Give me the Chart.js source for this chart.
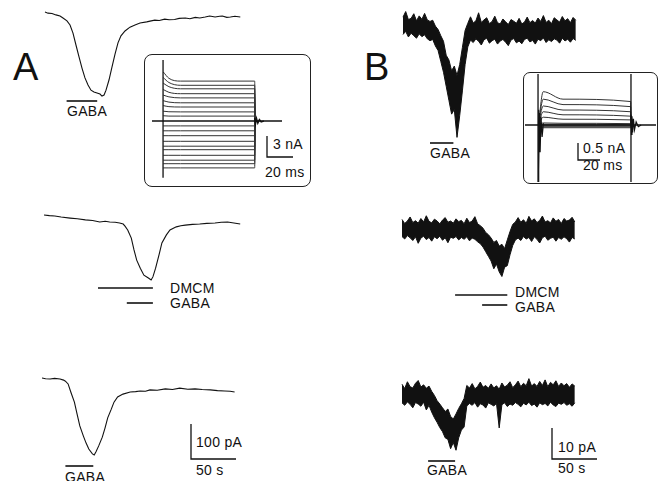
<!DOCTYPE html>
<html>
<head>
<meta charset="utf-8">
<script src="https://cdn.jsdelivr.net/npm/chart.js@4.4.0/dist/chart.umd.min.js"></script>
<style>
  body { margin: 0; background: #fff; }
  #fig { position: relative; width: 661px; height: 481px; overflow: hidden; background: #fff;
         font-family: "Liberation Sans", Arial, sans-serif; color: #111; }
  .t { position: absolute; font-size: 14px; line-height: 1; white-space: nowrap; letter-spacing: 0.3px; }
  .big { font-size: 38px; letter-spacing: 0; }
  .box { position: absolute; border: 1.5px solid #222; border-radius: 8px; box-sizing: border-box; }
</style>
</head>
<body>
<div id="fig">
  <div class="box" style="left:144px;top:54px;width:167px;height:133px"></div>
  <div class="box" style="left:523px;top:72px;width:135px;height:112px;border-radius:7px"></div>

  <div class="t big" style="left:13px;top:48px">A</div>
  <div class="t big" style="left:364px;top:48px">B</div>

  <div class="t" style="left:67px;top:104px">GABA</div>
  <div class="t" style="left:170px;top:281px">DMCM</div>
  <div class="t" style="left:170px;top:296px">GABA</div>
  <div class="t" style="left:65px;top:470px">GABA</div>
  <div class="t" style="left:196px;top:435px">100 pA</div>
  <div class="t" style="left:196px;top:463px">50 s</div>
  <div class="t" style="left:273px;top:137px">3 nA</div>
  <div class="t" style="left:265px;top:165px">20 ms</div>

  <div class="t" style="left:430px;top:146px">GABA</div>
  <div class="t" style="left:515px;top:285px">DMCM</div>
  <div class="t" style="left:515px;top:300px">GABA</div>
  <div class="t" style="left:427px;top:463px">GABA</div>
  <div class="t" style="left:558px;top:440px">10 pA</div>
  <div class="t" style="left:558px;top:461px">50 s</div>
  <div class="t" style="left:583px;top:141px">0.5 nA</div>
  <div class="t" style="left:583px;top:158px">20 ms</div>
</div>

<script>
// ---- column A: whole-cell currents (s, pA) ----
const tA1 = [0, 3.3, 7.8, 12.2, 16.7, 20, 24.4, 27.8, 31.1, 34.4, 37.8, 41.1, 44.4, 47.8, 51.1, 54.4, 57.8, 61.1, 63.3, 65.6,
             67.8, 71.1, 74.4, 77.8, 81.1, 84.4, 88.9, 94.4, 100, 105.6,
             113, 118, 122, 127, 133, 138, 144, 149, 156, 161, 167, 172, 178, 183, 189, 194, 197, 202, 206, 211, 217];
const iA1 = [14, 11, 10, 6, 3, -3, -11, -23, -46, -80, -114, -146, -174, -194, -209, -214, -217, -220, -226, -223,
             -209, -180, -143, -106, -74, -54, -40, -29, -23, -17,
             -14, -11, -9, -10, -6, -8, -7, -4, -3, -5, -1, -3, 0, 3, 0, 2, 3, -1, 0, 2, 0];
const gabaA1 = [24, 58];

const tA2 = [0, 6, 12, 19, 29, 37, 46, 54, 62, 68, 73, 79, 84, 88, 90, 93, 97, 100, 103, 107,
             111, 116, 119, 121, 124, 128, 131, 136, 140, 147, 152, 157, 165, 173, 181, 190, 197, 204, 211, 218];
const iA2 = [23, 21, 20, 17, 14, 12, 9, 7, 3, 5, 3, 2, 0, -3, -9, -20, -43, -77, -106, -129,
             -149, -157, -163, -154, -129, -89, -57, -34, -20, -11, -8, -6, -4, -3, -1, 0, 2, 3, 0, -3];
const dmcmA2 = [60, 121];
const gabaA2 = [92, 121];

const tA3 = [0, 4, 9, 14, 20, 24, 26, 29, 32, 36, 39, 42, 46, 49, 52, 56, 58, 60, 63, 67,
             70, 73, 77, 80, 84, 90, 98, 104, 109, 115, 120, 128, 137, 145, 153, 162, 170, 178, 187, 195, 203, 209, 214];
const iA3 = [40, 38, 37, 39, 37, 34, 31, 23, 0, -29, -63, -97, -126, -146, -163, -177, -180, -171, -154, -129,
             -103, -74, -49, -29, -14, -6, 0, 1, 3, 2, 6, 5, 9, 7, 11, 8, 9, 7, 6, 4, 3, 2, 0];
const gabaA3 = [26, 57];
const scaleA = [100, 50]; // pA, s

// ---- column B: noisy traces as upper / lower envelope (s, pA) ----
const tB = [0, 3, 6, 9, 12, 15, 18, 21, 24, 27, 30, 33, 36, 39, 42, 45, 48, 51, 54, 57, 60, 63, 66, 69, 72, 75, 78, 81, 84, 87,
            90, 93, 96, 99, 102, 105, 108, 111, 114, 117, 120, 123, 126, 129, 132, 135, 138, 141, 144, 147, 150, 153, 156, 159,
            162, 165, 168, 171, 174, 177, 180, 183, 186, 189, 192];
const hiB1 = [4.8, 6.6, 4.0, 4.4, 5.9, 3.6, 5.2, 4.1, 6.0, 3.9, 3.4, 3.8, 1.9, 0.8, -1.2, -3.0, -7.5, -9.0, -12.5, -11.0,
              -14.0, -10.5, -5.0, 0.5, 2.8, 4.9, 2.9, 3.6, 6.2, 3.1, 3.9, 4.6, 2.7, 3.4, 5.1, 3.0, 2.6, 4.2, 3.3, 2.4,
              4.0, 3.5, 2.8, 4.4, 2.6, 3.2, 4.8, 3.0, 3.7, 2.9, 4.5, 3.4, 5.3, 3.1, 3.8, 2.7, 4.6, 3.9, 3.2, 5.0,
              3.6, 4.3, 3.0, 4.7, 3.8];
const loB1 = [-0.8, 0.2, -1.6, -0.4, -1.2, -2.0, -0.6, -1.5, -0.9, -2.2, -2.8, -2.4, -4.5, -6.0, -9.5, -13.0, -17.5, -22.0, -26.5, -25.0,
              -34.0, -27.0, -19.0, -10.5, -4.8, -2.6, -3.4, -2.2, -3.0, -4.2, -2.5, -2.0, -3.6, -2.8, -2.3, -3.9, -2.9, -2.4, -3.3, -4.4,
              -2.6, -2.1, -3.5, -2.9, -3.8, -2.4, -2.0, -3.2, -2.7, -3.9, -2.3, -2.8, -1.9, -3.4, -2.5, -3.1, -2.2, -2.6, -3.6, -2.0,
              -2.9, -2.3, -3.3, -2.1, -2.7];
const gabaB1 = [30, 56];

const hiB2 = [3.4, 2.1, 2.9, 4.2, 2.4, 3.0, 2.2, 3.7, 2.6, 4.6, 2.8, 2.3, 3.5, 2.9, 2.0, 3.2, 4.0, 2.5, 2.9, 2.2,
              3.6, 2.7, 3.1, 2.0, 3.8, 2.4, 2.9, 4.3, 2.0, 1.4, 0.6, -0.8, -1.5, -2.6, -4.0, -3.4, -5.2, -4.6, -6.0, -3.2,
              -0.5, 1.8, 2.6, 4.0, 2.5, 3.3, 2.2, 4.4, 2.9, 3.6, 2.4, 3.1, 4.5, 2.6, 3.0, 2.3, 3.9, 2.8, 3.4, 2.1,
              3.7, 2.9, 3.2, 4.1, 2.6];
const loB2 = [-2.1, -2.9, -1.8, -2.5, -3.4, -2.2, -4.3, -2.6, -2.0, -3.1, -2.4, -3.6, -2.2, -2.8, -2.0, -3.3, -2.5, -4.1, -2.3, -2.7,
              -2.1, -3.2, -2.4, -3.0, -2.2, -3.5, -2.6, -3.0, -3.8, -4.4, -5.5, -7.0, -8.5, -10.0, -12.5, -11.0, -13.5, -15.0, -12.0, -11.5,
              -8.0, -5.0, -3.2, -2.6, -3.4, -2.1, -2.9, -2.4, -3.7, -2.2, -3.0, -4.2, -2.5, -2.0, -3.3, -2.7, -2.3, -3.6, -2.4, -3.0,
              -2.2, -2.8, -3.9, -2.4, -2.9];
const dmcmB2 = [59, 117];
const gabaB2 = [89, 117];

const hiB3 = [3.8, 2.4, 4.6, 3.0, 2.6, 4.1, 5.0, 2.9, 3.6, 2.5, 3.2, 1.5, 0.2, -1.5, -2.6, -3.8, -5.0, -4.2, -6.6, -7.4,
              -5.8, -4.0, -2.5, -0.8, 3.4, 2.6, 4.0, 2.3, 3.1, 4.5, 2.8, 3.4, 2.5, 3.9, 2.6, 3.3, 2.2, 4.2, 2.9, 3.5,
              4.6, 2.7, 3.6, 4.8, 3.0, 4.1, 3.3, 5.6, 3.2, 4.0, 3.1, 4.7, 3.4, 5.2, 3.0, 4.4, 3.6, 4.9, 3.1, 4.2,
              3.3, 4.0, 2.8, 3.9, 3.2];
const loB3 = [-2.2, -3.0, -1.9, -2.7, -3.8, -2.1, -2.6, -3.3, -2.0, -4.5, -3.0, -5.2, -7.0, -8.5, -10.2, -11.5, -13.5, -14.0, -17.0, -15.0,
              -17.5, -13.5, -11.0, -10.0, -3.2, -2.4, -3.0, -2.1, -3.6, -2.5, -2.9, -3.9, -2.2, -2.7, -3.2, -2.4, -10.3, -2.8, -2.2, -3.4,
              -2.6, -3.0, -2.1, -2.7, -3.5, -2.3, -2.9, -2.0, -3.1, -2.6, -3.6, -2.2, -2.8, -2.4, -3.2, -2.0, -2.9, -3.4, -2.3, -2.7,
              -2.1, -3.0, -2.5, -3.3, -2.2];
const gabaB3 = [29, 59];
const scaleB = [10, 50]; // pA, s

// ---- insets: voltage-step families (ms, nA) ----
const stepA = [8.5, 79];
const peakA = [7.0, 6.2, 5.4, 4.5, 3.7, 2.9, 2.2, 1.4, 0.75, -0.7, -1.4, -2.1, -2.9, -3.6, -4.1, -4.9, -5.6, -6.1, -6.7];
const earlyA = [6.1, 5.5, 4.9, 4.1, 3.45, 2.7, 2.05, 1.32, 0.7, -0.7, -1.4, -2.1, -2.9, -3.6, -4.1, -4.9, -5.6, -6.1, -6.7];
const steadyA = [5.7, 5.1, 4.6, 3.9, 3.3, 2.6, 2.0, 1.3, 0.7, -0.7, -1.4, -2.1, -2.9, -3.6, -4.1, -4.9, -5.6, -6.1, -6.7];
const capA = [8.7, -8.1];
const tailT = [79, 79.6, 80.4, 81.4, 82.6, 84, 86];
const tailI = [0.45, -0.4, 0.35, -0.3, 0.2, -0.12, 0];
const scaleInA = [3, 20]; // nA, ms

const stepB = [7.3, 91.8];
const peakB = [0.98, 0.76, 0.56, 0.39, 0.23, 0.06, 0.02, -0.02, -0.05, -0.08];
const earlyB = [0.76, 0.60, 0.44, 0.30, 0.17, 0.05, 0.02, -0.02, -0.05, -0.08];
const endB = [0.69, 0.54, 0.39, 0.26, 0.15, 0.04, 0.01, -0.02, -0.05, -0.08];
const onT = [7.3, 7.7, 8.1, 8.6, 9.2, 10, 11, 12.2];
const onI = [-1.7, 0.45, -1.35, 0.35, -0.8, 0.25, -0.35, 0.05];
const offT = [91.8, 92.2, 92.7, 93.3, 94, 95, 96.5, 98.5, 101];
const offI = [0.3, -0.28, 0.26, -0.22, 0.18, -0.14, 0.09, -0.05, 0];
const scaleInB = [0.5, 20]; // nA, ms

// ---- layout: canvas rect, pixel of (0,0), px per unit ----
const P = {
  a1: { rect: [30, 0, 230, 125], org: [45, 17], k: [0.9, 0.35] },
  a2: { rect: [30, 200, 230, 115], org: [44, 223], k: [0.9, 0.35] },
  a3: { rect: [30, 365, 230, 116], org: [42, 392], k: [0.9, 0.35] },
  b1: { rect: [390, 0, 200, 150], org: [403, 32], k: [0.9, 3.1] },
  b2: { rect: [390, 205, 200, 110], org: [402, 230], k: [0.9, 3.1] },
  b3: { rect: [390, 370, 220, 111], org: [402, 396], k: [0.9, 3.1] },
  ia: { rect: [146, 56, 163, 129], org: [152, 121], k: [1.3, 7] },
  ib: { rect: [525, 74, 131, 108], org: [530, 125], k: [1.1, 34] },
};

const INK = '#111';
const fig = document.getElementById('fig');
const xy = (ts, vs) => ts.map((t, i) => ({ x: t, y: vs[i] }));

function line(data, w, extra) {
  return Object.assign({ data, borderColor: INK, borderWidth: w || 1, pointRadius: 0, fill: false, tension: 0 }, extra || {});
}
// stimulus bar at a pixel row
function bar(p, span, py) {
  const y = (p.org[1] - py) / p.k[1];
  return line([{ x: span[0], y }, { x: span[1], y }], 1.6);
}
// L-shaped scale bar, corner top at pixel (px, py)
function scaleBar(p, px, py, amp, dur) {
  const x = (px - p.org[0]) / p.k[0], y = (p.org[1] - py) / p.k[1];
  return line([{ x, y }, { x, y: y - amp }, { x: x + dur, y: y - amp }], 1.3);
}
function band(ts, hi, lo) {
  return [line(xy(ts, hi), 1), line(xy(ts, lo), 1, { fill: '-1', backgroundColor: INK })];
}

function panel(p, datasets) {
  const [L, T, W, H] = p.rect;
  const [x0, y0] = p.org, [kx, ky] = p.k;
  const cv = document.createElement('canvas');
  cv.width = W; cv.height = H;
  cv.style.cssText = `position:absolute;left:${L}px;top:${T}px;width:${W}px;height:${H}px`;
  fig.appendChild(cv);
  new Chart(cv, {
    type: 'line',
    data: { datasets },
    options: {
      responsive: false, animation: false, events: [], devicePixelRatio: 1,
      layout: { padding: 0 },
      plugins: { legend: { display: false }, tooltip: { enabled: false } },
      scales: {
        x: { type: 'linear', display: false, min: (L - x0) / kx, max: (L + W - x0) / kx },
        y: { type: 'linear', display: false, min: (y0 - T - H) / ky, max: (y0 - T) / ky },
      },
    },
  });
}

panel(P.a1, [line(xy(tA1, iA1), 1.1), bar(P.a1, gabaA1, 101)]);
panel(P.a2, [line(xy(tA2, iA2), 1.1), bar(P.a2, dmcmA2, 288), bar(P.a2, gabaA2, 303)]);
panel(P.a3, [line(xy(tA3, iA3), 1.1), bar(P.a3, gabaA3, 466), scaleBar(P.a3, 191, 424, scaleA[0], scaleA[1])]);

panel(P.b1, [...band(tB, hiB1, loB1), bar(P.b1, gabaB1, 143)]);
panel(P.b2, [...band(tB, hiB2, loB2), bar(P.b2, dmcmB2, 295), bar(P.b2, gabaB2, 305)]);
panel(P.b3, [...band(tB, hiB3, loB3), bar(P.b3, gabaB3, 461), scaleBar(P.b3, 552, 428, scaleB[0], scaleB[1])]);

// inset A
const sweepsA = peakA.map((pk, i) => line([
  { x: stepA[0] + 0.2, y: pk }, { x: 13, y: earlyA[i] }, { x: 22, y: steadyA[i] },
  { x: stepA[1], y: steadyA[i] }, { x: stepA[1] + 0.3, y: 0 }], 1, { borderColor: '#333', cubicInterpolationMode: 'monotone' }));
panel(P.ia, [
  line([{ x: 0, y: 0 }, { x: 100, y: 0 }], 1.5),
  line([{ x: stepA[0], y: capA[0] }, { x: stepA[0], y: capA[1] }], 1.3),
  line(xy(tailT, tailI), 1.5),
  ...sweepsA,
  scaleBar(P.ia, 267, 136, scaleInA[0], scaleInA[1]),
]);

// inset B
const sweepsB = peakB.map((pk, i) => line([
  { x: stepB[0] + 0.3, y: 0 }, { x: 12, y: pk }, { x: 30, y: earlyB[i] },
  { x: stepB[1] - 0.3, y: endB[i] }, { x: stepB[1], y: 0 }], 1, { borderColor: '#333', cubicInterpolationMode: 'monotone' }));
panel(P.ib, [
  line([{ x: -10, y: 0 }, { x: 120, y: 0 }], 1.3),
  line([{ x: stepB[0], y: 5 }, { x: stepB[0], y: -5 }], 1.3),
  line([{ x: stepB[1], y: 5 }, { x: stepB[1], y: -5 }], 1.3),
  line(xy(onT, onI), 1.2),
  line(xy(offT, offI), 1.2),
  ...sweepsB,
  scaleBar(P.ib, 578, 143, scaleInB[0], scaleInB[1]),
]);
</script>
</body>
</html>
